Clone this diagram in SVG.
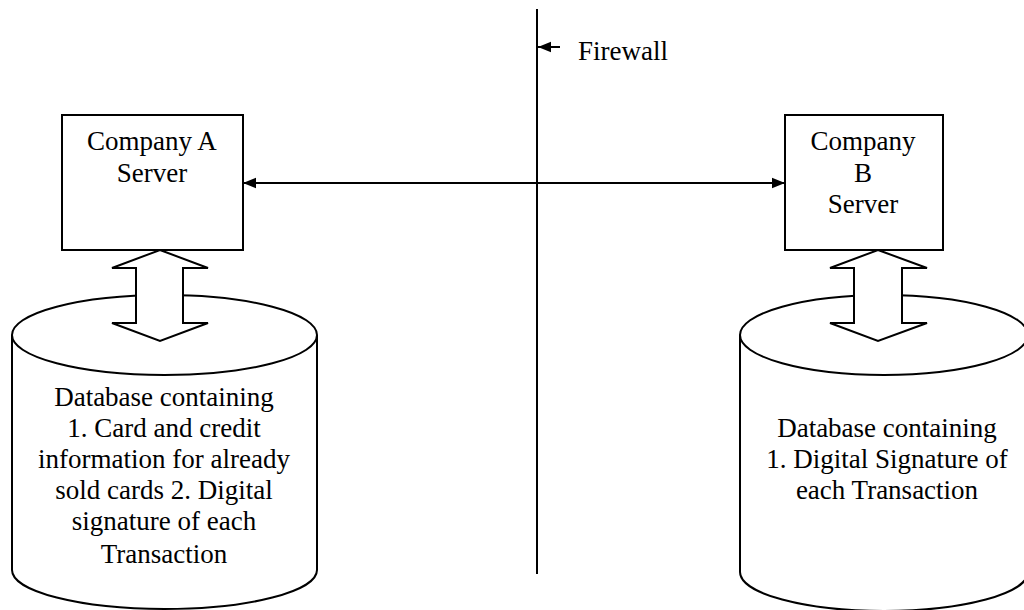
<svg xmlns="http://www.w3.org/2000/svg" width="1024" height="610" viewBox="0 0 1024 610">
<defs>
<style>
.ln{fill:none;stroke:#000;stroke-width:2}
.sh{fill:#fff;stroke:#000;stroke-width:2}
.t{font-family:"Liberation Serif","Times New Roman",serif;font-size:27px;fill:#000;text-anchor:middle}
.tl{font-family:"Liberation Serif","Times New Roman",serif;font-size:27px;fill:#000}
</style>
<marker id="ah" viewBox="0 0 10 10" refX="10" refY="5" markerWidth="13" markerHeight="13" markerUnits="userSpaceOnUse" orient="auto-start-reverse">
<path d="M0,1 L10,5 L0,9 Z" fill="#000"/>
</marker>
</defs>
<rect width="1024" height="610" fill="#fff"/>

<g id="dbA">
<path class="sh" d="M12,335 L12,570 A152.5,39 0 0 0 317,570 L317,335"/>
<ellipse class="sh" cx="164.5" cy="335" rx="152.5" ry="40"/>
<text class="t" x="164" y="406">Database containing</text>
<text class="t" x="164" y="437">1. Card and credit</text>
<text class="t" x="164" y="468">information for already</text>
<text class="t" x="164" y="499">sold cards 2. Digital</text>
<text class="t" x="164" y="530">signature of each</text>
<text class="t" x="164" y="563">Transaction</text>
</g>

<g id="dbB">
<path class="sh" d="M740,335 L740,572 A144,39 0 0 0 1028,572 L1028,335"/>
<ellipse class="sh" cx="884" cy="335" rx="144" ry="40"/>
<text class="t" x="887" y="437">Database containing</text>
<text class="t" x="887" y="468">1. Digital Signature of</text>
<text class="t" x="887" y="499">each Transaction</text>
</g>

<g id="serverA">
<rect class="sh" x="62" y="115" width="181" height="135"/>
<text class="t" x="152" y="150">Company A</text>
<text class="t" x="152" y="182">Server</text>
</g>

<g id="serverB">
<rect class="sh" x="785" y="115" width="158" height="135"/>
<text class="t" x="863" y="150">Company</text>
<text class="t" x="863" y="182">B</text>
<text class="t" x="863" y="213">Server</text>
</g>

<g id="firewall">
<line class="ln" x1="537" y1="9" x2="537" y2="574"/>
<text class="tl" x="578" y="60">Firewall</text>
</g>

<g id="connectors">
<line class="ln" x1="243" y1="183" x2="785" y2="183" marker-start="url(#ah)" marker-end="url(#ah)"/>
<line class="ln" x1="560" y1="47" x2="538" y2="47" marker-end="url(#ah)"/>
<path class="sh" d="M160,250 L208,268 L183,268 L183,323 L208,323 L160,341 L112,323 L136,323 L136,268 L112,268 Z"/>
<path class="sh" d="M878,250 L927,268 L902,268 L902,323 L927,323 L878,341 L830,323 L854,323 L854,268 L830,268 Z"/>
</g>
</svg>
